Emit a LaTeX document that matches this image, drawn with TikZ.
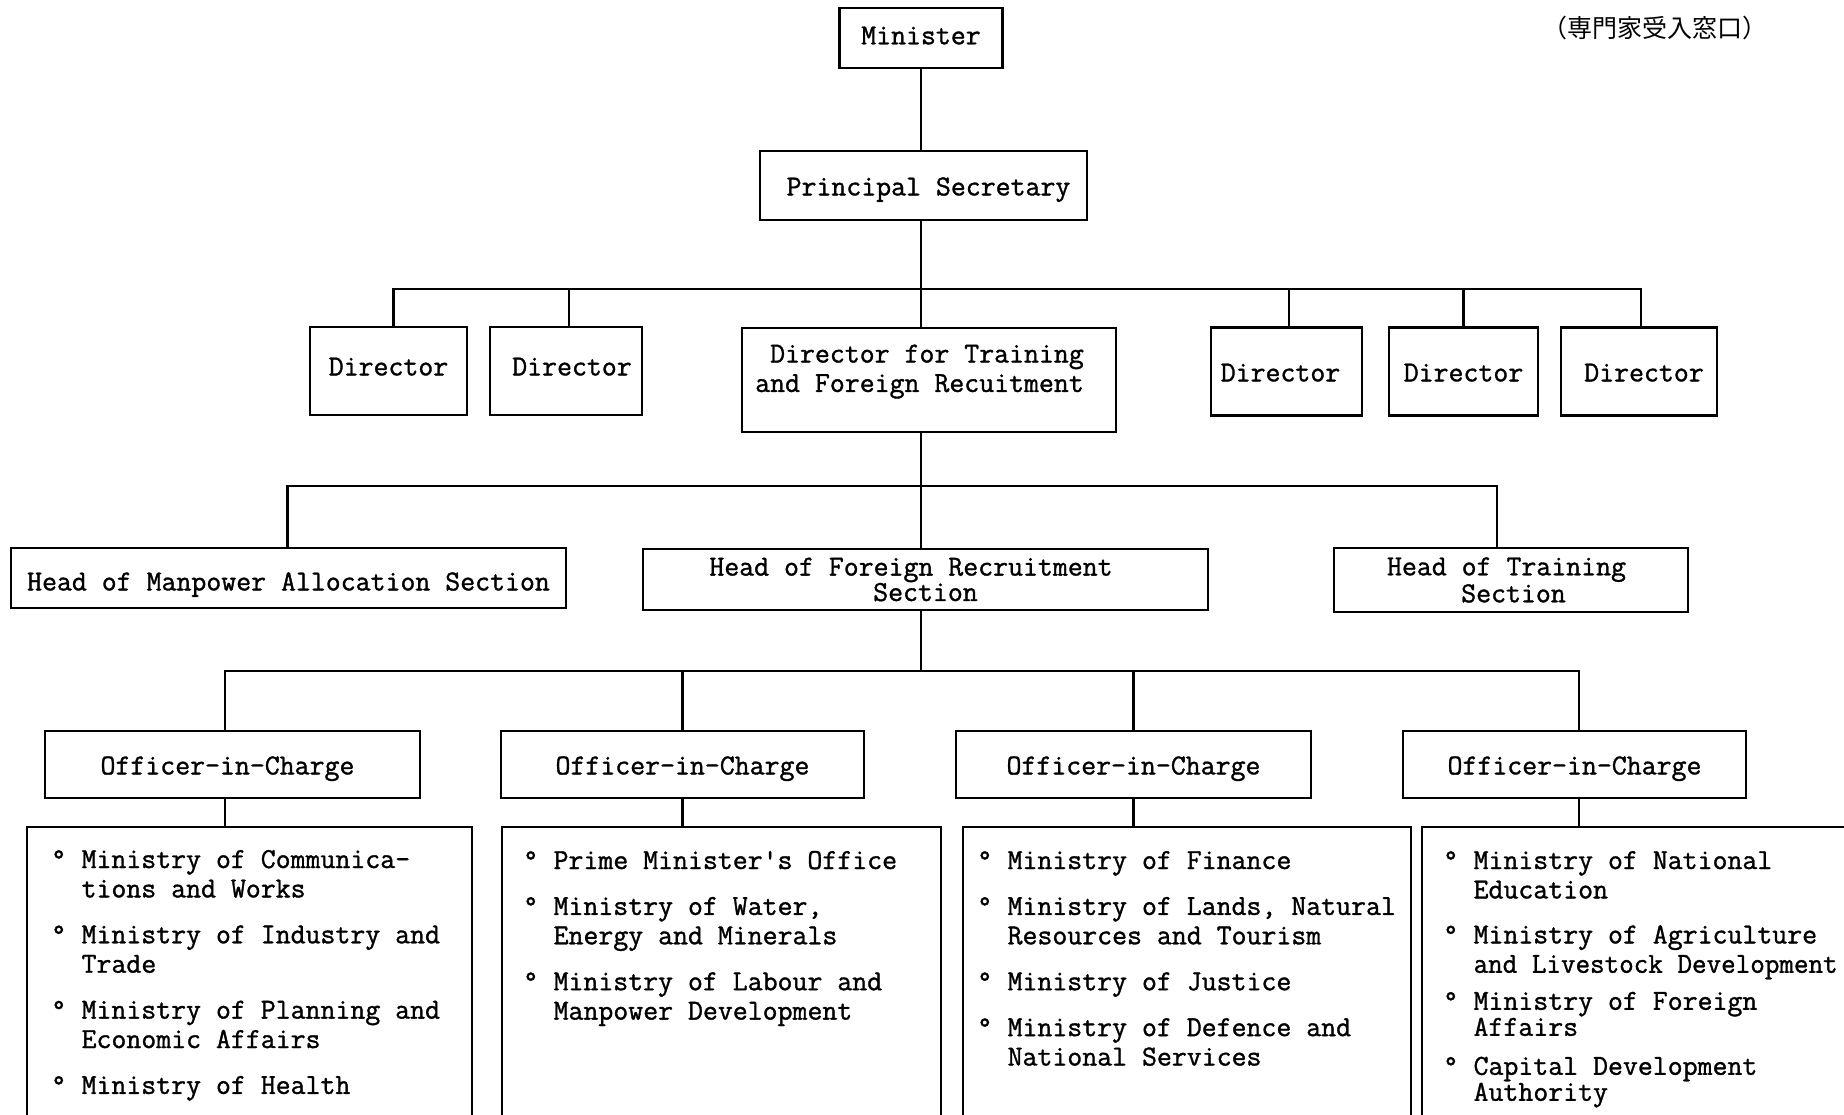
\documentclass[tikz,border=0pt]{standalone}
\usepackage{fontspec}
\usepackage{graphicx}
\setmonofont{Latin Modern Mono}[FakeBold=1.2]
\newfontfamily\cjkfont{Noto Sans CJK JP}
\newcommand\bul{\makebox[30.4pt][l]{\makebox[15.2pt]{°}}}
\newcommand\ind{\hspace*{30.4pt}}
\begin{document}
\begin{tikzpicture}[x=1pt,y=-1pt,
  font=\ttfamily\fontsize{29pt}{29.4pt}\selectfont,
  box/.style={draw, line width=2.8pt, inner sep=0pt, align=center},
  sl/.style={text height=25pt, text depth=5.2pt},
  mbox/.style={draw, line width=2.2pt, inner sep=0pt},
  conn/.style={line width=2.1pt},
  lst/.style={anchor=base west, inner sep=0pt}]
\useasboundingbox (0,0) rectangle (1844,1114);
\fill[white] (0,0) rectangle (1844,1114);
\clip (0,0) rectangle (1844,1114);

% top levels
\node[box, sl, text height=17.7pt, minimum width=163pt, minimum height=60pt] (min) at (921,38) {Minister};
\node[box, sl, minimum width=327pt, minimum height=69pt] (ps) at (923.5,185.5) {\hspace*{10pt}Principal Secretary};

% directors
\node[box, sl, text height=14pt, minimum width=157pt, minimum height=88pt] (d1) at (388.5,371) {Director};
\node[box, sl, text height=14pt, minimum width=152pt, minimum height=88pt] (d2) at (566,371) {\hspace*{12pt}Director};
\node[box, minimum width=374pt, minimum height=104pt] (dt) at (929,380) {\begin{tabular}{@{}r@{}}Director for Training\\and Foreign Recuitment\\[-12.1pt]\mbox{}\end{tabular}\hspace*{19pt}};
\node[box, sl, minimum width=151pt, minimum height=88pt] (d4) at (1286.5,371.5) {Director\hspace*{12pt}};
\node[box, sl, minimum width=149pt, minimum height=88pt] (d5) at (1463.5,371.5) {Director};
\node[box, sl, minimum width=156pt, minimum height=88pt] (d6) at (1639,371.5) {\hspace*{10pt}Director};

% heads
\node[box, sl, text height=30pt, minimum width=555pt, minimum height=60pt] (hma) at (288.5,578) {Head of Manpower Allocation Section};
\node[box, minimum width=565pt, minimum height=61pt] (hfr) at (925.5,579.5) {Head of Foreign Recruitment\hspace*{29pt}\\[-4pt]Section};
\node[box, minimum width=354pt, minimum height=64pt] (ht) at (1511,580) {Head of Training\hspace*{9pt}\\[-2.4pt]\hspace*{5pt}Section};

% officers
\node[box, sl, minimum width=375pt, minimum height=67pt] (o1) at (232.5,764.5) {Officer-in-Charge\hspace*{10pt}};
\node[box, sl, minimum width=363pt, minimum height=67pt] (o2) at (682.5,764.5) {Officer-in-Charge};
\node[box, sl, minimum width=355pt, minimum height=67pt] (o3) at (1133.5,764.5) {Officer-in-Charge};
\node[box, sl, minimum width=343pt, minimum height=67pt] (o4) at (1574.5,764.5) {Officer-in-Charge};

% ministry boxes (run off the bottom of the page)
\node[mbox, minimum width=445pt, minimum height=303pt] (m1) at (249.5,978.5) {};
\node[mbox, minimum width=439pt, minimum height=303pt] (m2) at (721.5,978.5) {};
\node[mbox, minimum width=448pt, minimum height=303pt] (m3) at (1187,978.5) {};
\node[mbox, minimum width=428pt, minimum height=303pt] (m4) at (1636,978.5) {};

\node[lst] (l1) at (51,868) {\begin{tabular}[t]{@{}l@{}}
\bul Ministry of Communica-\\
\ind tions and Works\\[16.5pt]
\bul Ministry of Industry and\\
\ind Trade\\[16.5pt]
\bul Ministry of Planning and\\
\ind Economic Affairs\\[16.5pt]
\bul Ministry of Health
\end{tabular}};
\node[lst] (l2) at (523,869) {\begin{tabular}[t]{@{}l@{}}
\bul Prime Minister's Office\\[16.5pt]
\bul Ministry of Water,\\
\ind Energy and Minerals\\[16.5pt]
\bul Ministry of Labour and\\
\ind Manpower Development
\end{tabular}};
\node[lst] (l3) at (977,869) {\begin{tabular}[t]{@{}l@{}}
\bul Ministry of Finance\\[16.5pt]
\bul Ministry of Lands, Natural\\
\ind Resources and Tourism\\[16.5pt]
\bul Ministry of Justice\\[16.5pt]
\bul Ministry of Defence and\\
\ind National Services
\end{tabular}};
\node[lst] (l4) at (1443,869) {\begin{tabular}[t]{@{}l@{}}
\bul Ministry of National\\
\ind Education\\[15.6pt]
\bul Ministry of Agriculture\\
\ind \scalebox{0.975}[1]{and Livestock Development}\\[7.6pt]
\bul Ministry of Foreign\\[-3.4pt]
\ind Affairs\\[9.6pt]
\bul Capital Development\\[-3.4pt]
\ind Authority
\end{tabular}};

% Japanese tag
\node[font=\cjkfont\fontsize{25pt}{28pt}\selectfont, inner sep=0pt] (tag) at (1655,28) {（専門家受入窓口）};

% connectors
\coordinate (b1) at (921,289);
\coordinate (b2) at (921,486);
\coordinate (b3) at (921,671);
\draw[conn] (min.south) -- (min.south |- ps.north);
\draw[conn] (ps.south -| b1) -- (b1) -- (b1 |- dt.north);
\draw[conn] (b1) -| ([xshift=5pt]d1.north);
\draw[conn] (b1) -| ([xshift=3pt]d2.north);
\draw[conn] (b1) -| ([xshift=2.5pt]d4.north);
\draw[conn] (b1) -| (d5.north);
\draw[conn] (b1) -| ([xshift=2pt]d6.north);
\draw[conn] (dt.south -| b2) -- (b2) -- (b2 |- hfr.north);
\draw[conn] (b2) -| ([xshift=-1pt]hma.north);
\draw[conn] (b2) -| ([xshift=-14pt]ht.north);
\draw[conn] (hfr.south -| b3) -- (b3);
\draw[conn] (b3) -| ([xshift=-7.5pt]o1.north);
\draw[conn] (b3) -| (o2.north);
\draw[conn] (b3) -| (o3.north);
\draw[conn] (b3) -| ([xshift=4.5pt]o4.north);
\draw[conn] ([xshift=-7.5pt]o1.south) -- ([xshift=-7.5pt]o1.south |- m1.north);
\draw[conn] (o2.south) -- (o2.south |- m2.north);
\draw[conn] (o3.south) -- (o3.south |- m3.north);
\draw[conn] ([xshift=4.5pt]o4.south) -- ([xshift=4.5pt]o4.south |- m4.north);
\end{tikzpicture}
\end{document}
